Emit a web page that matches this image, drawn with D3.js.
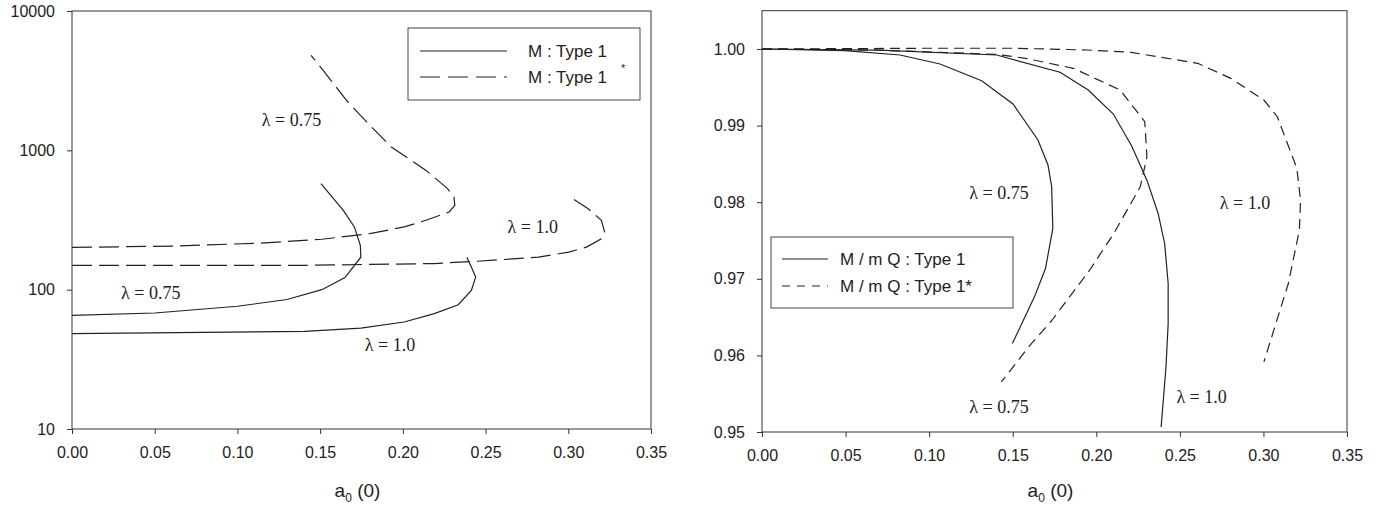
<!DOCTYPE html>
<html>
<head>
<meta charset="utf-8">
<script src="https://d3js.org/d3.v7.min.js"></script>
<style>
  body { margin:0; background:#fff; }
  .tick text { font-family:"Liberation Sans", Arial, sans-serif; font-size:16px; fill:#222; }
  .lam { font-family:"Liberation Serif", "Times New Roman", serif; font-size:18px; fill:#222; }
  .leg { font-family:"Liberation Sans", Arial, sans-serif; font-size:17px; fill:#222; }
  .title { font-family:"Liberation Sans", Arial, sans-serif; font-size:19px; fill:#222; }
</style>
</head>
<body>
<svg id="chart" width="1382" height="508"></svg>
<script>
// ---- left panel: M vs a0(0), log scale ----
var xTicks = [0, 0.05, 0.10, 0.15, 0.20, 0.25, 0.30, 0.35];
var leftYTicks = [10, 100, 1000, 10000];
var rightYTicks = [0.95, 0.96, 0.97, 0.98, 0.99, 1.00];

// M : Type 1, lambda = 0.75
var mT1_075_x = [0, 0.05, 0.10, 0.130, 0.151, 0.165, 0.1746, 0.1743, 0.1707, 0.164, 0.1505];
var mT1_075_y = [65.4, 68, 76, 85, 100, 122, 171, 208, 282, 371, 577];
// M : Type 1, lambda = 1.0
var mT1_100_x = [0, 0.1406, 0.1746, 0.2008, 0.219, 0.2335, 0.2414, 0.244, 0.2414, 0.2387];
var mT1_100_y = [48.3, 50.2, 53, 58.6, 67.3, 78, 98.8, 123, 145.5, 171];
// M : Type 1*, lambda = 0.75
var mT1s_075_x = [0, 0.062, 0.114, 0.151, 0.18, 0.2008, 0.214, 0.228, 0.2314, 0.2309, 0.227, 0.214, 0.193, 0.18, 0.1668, 0.151, 0.1445];
var mT1s_075_y = [201, 205.6, 216, 230, 252.5, 282, 315, 361, 403, 462, 531, 718, 1057, 1514, 2222, 3855, 4808];
// M : Type 1*, lambda = 1.0
var mT1s_100_x = [0, 0.1406, 0.219, 0.245, 0.282, 0.3003, 0.311, 0.32, 0.322, 0.32, 0.312, 0.3003];
var mT1s_100_y = [149.6, 149.6, 154, 160, 171, 186, 202, 232, 259, 315, 381, 468];

// ---- right panel: M / m Q vs a0(0) ----
var qT1_075_x = [0, 0.0494, 0.0826, 0.1065, 0.1314, 0.1502, 0.1651, 0.1711, 0.1733, 0.174, 0.1696, 0.163, 0.1498];
var qT1_075_y = [1, 0.99978, 0.99922, 0.99804, 0.99586, 0.99282, 0.98812, 0.98486, 0.98202, 0.97657, 0.97134, 0.96764, 0.96154];
var qT1_100_x = [0, 0.07, 0.1404, 0.1783, 0.1952, 0.2102, 0.2211, 0.2303, 0.237, 0.2409, 0.243, 0.243, 0.2417, 0.2388];
var qT1_100_y = [1, 0.99985, 0.99922, 0.99696, 0.99465, 0.99151, 0.98737, 0.98288, 0.97853, 0.97461, 0.96938, 0.96415, 0.95849, 0.95065];
var qT1s_075_x = [0, 0.07, 0.1404, 0.1577, 0.1863, 0.2142, 0.229, 0.2303, 0.2263, 0.2105, 0.196, 0.1735, 0.1603, 0.1432];
var qT1s_075_y = [1, 0.99985, 0.9993, 0.99878, 0.99748, 0.99465, 0.99051, 0.98593, 0.98201, 0.97592, 0.97112, 0.96459, 0.96132, 0.95653];
var qT1s_100_x = [0, 0.1, 0.15, 0.1947, 0.221, 0.2607, 0.2805, 0.3003, 0.3083, 0.32, 0.3222, 0.3215, 0.3149, 0.3003];
var qT1s_100_y = [1, 1.0001, 1.0001, 0.99987, 0.99956, 0.99813, 0.99617, 0.99334, 0.99116, 0.98441, 0.98027, 0.97635, 0.96938, 0.95915];

// curve labels (data coordinates)
var leftLabels = [
  {t:"\u03bb = 0.75", x:0.1327, y:1652},
  {t:"\u03bb = 1.0", x:0.2785, y:282},
  {t:"\u03bb = 0.75", x:0.0476, y:94.6},
  {t:"\u03bb = 1.0", x:0.1922, y:40}
];
var rightLabels = [
  {t:"\u03bb = 0.75", x:0.1418, y:0.9812},
  {t:"\u03bb = 1.0", x:0.289, y:0.9799},
  {t:"\u03bb = 0.75", x:0.1418, y:0.95326},
  {t:"\u03bb = 1.0", x:0.263, y:0.95457}
];

var svg = d3.select("#chart");
var ink = "#222";

function zip(xs, ys){
  return xs.map(function(x, i){ return [x, ys[i]]; });
}

function drawPanel(p){
  var g = svg.append("g");
  var line = d3.line().x(function(d){ return p.x(d[0]); }).y(function(d){ return p.y(d[1]); });

  // frame
  g.append("rect")
    .attr("x", p.x.range()[0]).attr("y", p.y.range()[1])
    .attr("width", p.x.range()[1]-p.x.range()[0])
    .attr("height", p.y.range()[0]-p.y.range()[1])
    .attr("fill", "none").attr("stroke", "#333").attr("stroke-width", 1);

  g.append("g").attr("transform", "translate(0,"+p.y.range()[0]+")")
    .call(d3.axisBottom(p.x).tickValues(xTicks).tickFormat(d3.format(".2f")).tickSize(5).tickPadding(13).tickSizeOuter(0));
  g.append("g").attr("transform", "translate("+p.x.range()[0]+",0)")
    .call(d3.axisLeft(p.y).tickValues(p.yTicks).tickFormat(p.yFormat).tickSize(5).tickPadding(12).tickSizeOuter(0));
  g.selectAll(".domain").remove();
  g.selectAll(".tick line").attr("stroke", "#333");

  p.series.forEach(function(s){
    g.append("path")
      .datum(zip(s.x, s.y))
      .attr("d", line)
      .attr("fill", "none")
      .attr("stroke", ink)
      .attr("stroke-width", 1.2)
      .attr("stroke-dasharray", s.dash || null);
  });

  g.selectAll("text.lam").data(p.labels).enter().append("text")
    .attr("class", "lam")
    .attr("x", function(d){ return p.x(d.x); })
    .attr("y", function(d){ return p.y(d.y); })
    .attr("dy", "0.35em")
    .attr("text-anchor", "middle")
    .text(function(d){ return d.t; });

  var t = g.append("text").attr("class", "title")
    .attr("x", (p.x.range()[0]+p.x.range()[1])/2 - 4)
    .attr("y", 497)
    .attr("text-anchor", "middle");
  t.append("tspan").text("a");
  t.append("tspan").attr("dy", 5).style("font-size", "12px").text("0");
  t.append("tspan").attr("dy", -5).text(" (0)");
  return g;
}

var xL = d3.scaleLinear().domain([0, 0.35]).range([72, 651]);
var yL = d3.scaleLog().domain([10, 10000]).range([429, 11]);
drawPanel({
  x: xL, y: yL, yTicks: leftYTicks, yFormat: d3.format("d"),
  series: [
    {x: mT1_075_x, y: mT1_075_y},
    {x: mT1_100_x, y: mT1_100_y},
    {x: mT1s_075_x, y: mT1s_075_y, dash: "20,7"},
    {x: mT1s_100_x, y: mT1s_100_y, dash: "20,7"}
  ],
  labels: leftLabels
});

var xR = d3.scaleLinear().domain([0, 0.35]).range([762, 1347]);
var yR = d3.scaleLinear().domain([0.95, 1.005]).range([432, 10.7]);
drawPanel({
  x: xR, y: yR, yTicks: rightYTicks, yFormat: d3.format(".2f"),
  series: [
    {x: qT1_075_x, y: qT1_075_y},
    {x: qT1_100_x, y: qT1_100_y},
    {x: qT1s_075_x, y: qT1s_075_y, dash: "10,6"},
    {x: qT1s_100_x, y: qT1s_100_y, dash: "10,6"}
  ],
  labels: rightLabels
});

// legends
function legend(box, rows, lineX, textX, dash){
  var g = svg.append("g");
  g.append("rect").attr("x", box[0]).attr("y", box[1]).attr("width", box[2]).attr("height", box[3])
    .attr("fill", "#fff").attr("stroke", "#444").attr("stroke-width", 1);
  rows.forEach(function(r, i){
    g.append("line").attr("x1", lineX[0]).attr("x2", lineX[1]).attr("y1", r.y).attr("y2", r.y)
      .attr("stroke", ink).attr("stroke-width", 1.2)
      .attr("stroke-dasharray", i ? dash : null);
    g.append("text").attr("class", "leg").attr("x", textX).attr("y", r.y + 6).text(r.t);
  });
  return g;
}

var lg = legend([408, 28, 232, 72], [{t:"M : Type 1", y:51}, {t:"M : Type 1", y:77}], [420, 507], 528, "20,8");
lg.append("text").attr("class", "leg").attr("x", 621).attr("y", 72).style("font-size", "11px").text("*");
legend([771, 237, 242, 71], [{t:"M / m Q : Type 1", y:259}, {t:"M / m Q : Type 1*", y:286}], [782, 828], 840, "8,7");
</script>
</body>
</html>
